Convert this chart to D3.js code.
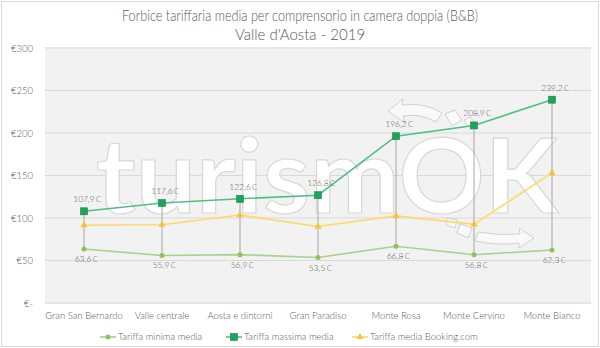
<!DOCTYPE html>
<html><head><meta charset="utf-8">
<script src="https://cdn.jsdelivr.net/npm/d3@7"></script>
<style>
html,body{margin:0;padding:0;background:#fff;}
svg text{font-family:"Lato","Open Sans",sans-serif;font-weight:300;fill:#595959;}
</style></head>
<body>
<svg id="chart" width="600" height="348"></svg>
<script>
const categories = ["Gran San Bernardo","Valle centrale","Aosta e dintorni","Gran Paradiso","Monte Rosa","Monte Cervino","Monte Bianco"];
const tariffaMinima = [63.6, 55.9, 56.9, 53.5, 66.8, 56.8, 62.3];
const tariffaMassima = [107.9, 117.6, 122.6, 126.8, 196.2, 208.9, 239.2];
const tariffaBooking = [91.5, 92, 103.5, 90, 102.5, 92.5, 153];
const yTicks = [0, 50, 100, 150, 200, 250, 300];
const yTickLabels = ["€-", "€50", "€100", "€150", "€200", "€250", "€300"];
const titleLines = ["Forbice tariffaria media per comprensorio in camera doppia (B&B)", "Valle d'Aosta - 2019"];
const legendLabels = ["Tariffa minima media", "Tariffa massima media", "Tariffa media Booking.com"];

const svg = d3.select("#chart");
const W = 600, H = 348;
const plot = {left: 45, right: 591, top: 47, bottom: 304};

// outer border
svg.append("rect").attr("x",1.5).attr("y",1.5).attr("width",W-3).attr("height",H-3)
  .attr("fill","#fff").attr("stroke","#d9d9d9");

const x = d3.scaleBand().domain(categories).range([plot.left, plot.right]);
const y = d3.scaleLinear().domain([0,300]).range([303, 48]);

// plot background
svg.append("rect").attr("x",plot.left).attr("y",plot.top)
  .attr("width",plot.right-plot.left).attr("height",plot.bottom-plot.top).attr("fill","#f2f2f2");

// gridlines
svg.append("g").selectAll("line").data(yTicks).join("line")
  .attr("x1",plot.left).attr("x2",plot.right)
  .attr("y1",d=>y(d)).attr("y2",d=>y(d))
  .attr("stroke","#d9d9d9").attr("stroke-width",1);

// y axis labels
const yAxis = d3.axisLeft(y).tickValues(yTicks).tickSize(0).tickPadding(0)
  .tickFormat((d,i)=>yTickLabels[i]);
const ya = svg.append("g").attr("transform","translate(33,0)").call(yAxis);
ya.select(".domain").remove();
ya.selectAll("text").style("font-size","9.5px").style("font-family",'"Lato","Open Sans",sans-serif').attr("fill","#595959");

// watermark (logo)
const wm = svg.append("g");
wm.append("text").attr("x",96).attr("y",213).text("turismOK")
  .attr("textLength",462).attr("lengthAdjust","spacingAndGlyphs")
  .style("font-size","104px").style("font-weight","700")
  .style("fill","#ffffff").attr("stroke","#d8d8d8").attr("stroke-width",1.2);
function arrow(path){ wm.append("path").attr("d",path).attr("fill","#f9f9f9").attr("stroke","#d0d0d0").attr("stroke-width",1); }
arrow("M388,111 L403,99 L402,105 Q425,102 442,113 L436,122 Q420,113 403,116 L405,123 Z");
arrow("M445,114 L455,110 L462,120 L452,126 Z");
arrow("M464,120 L470,117 L476,124 L468,127 Z");
arrow("M447,218 L457,220 L455,228 L446,225 Z");
arrow("M460,224 L472,228 L468,238 L457,233 Z");
arrow("M478,232 Q500,236 520,234 L519,228 L534,238 L519,248 L519,243 Q498,246 475,241 Z");

// high-low lines
const cx = d => x(d)+x.bandwidth()/2;
svg.append("g").selectAll("line").data(categories).join("line")
  .attr("x1",cx).attr("x2",cx)
  .attr("y1",(d,i)=>y(tariffaMinima[i])).attr("y2",(d,i)=>y(tariffaMassima[i]))
  .attr("stroke","#a6a6a6").attr("stroke-width",1);

const series = [
  {name:legendLabels[0], values:tariffaMinima, line:"#a9d18e", marker:"#8dc25e", shape:"circle"},
  {name:legendLabels[1], values:tariffaMassima, line:"#4fbf82", marker:"#1fa35a", shape:"square"},
  {name:legendLabels[2], values:tariffaBooking, line:"#ffd966", marker:"#f7c23c", shape:"triangle"}
];
const line = d3.line().x((v,i)=>cx(categories[i])).y(v=>y(v));
function drawMarker(g, shape, color, px, py){
  if(shape==="circle") g.append("circle").attr("cx",px).attr("cy",py).attr("r",2.5).attr("fill",color);
  else if(shape==="square") g.append("rect").attr("x",px-3.5).attr("y",py-3.5).attr("width",7).attr("height",7).attr("fill",color).attr("stroke","#178a4a").attr("stroke-width",0.6);
  else g.append("path").attr("d",d3.symbol(d3.symbolTriangle,22)()).attr("transform",`translate(${px},${py})`).attr("fill",color);
}
[series[2], series[0], series[1]].forEach(s=>{
  const g = svg.append("g");
  g.append("path").datum(s.values).attr("d",line).attr("fill","none").attr("stroke",s.line).attr("stroke-width",1.6);
  s.values.forEach((v,i)=>drawMarker(g, s.shape, s.marker, cx(categories[i]), y(v)));
});

const fmt = v => d3.format(".1f")(v).replace(".",",") + "\u2009€";
svg.append("g").selectAll("text").data(tariffaMassima).join("text")
  .attr("x",(v,i)=>cx(categories[i])+3).attr("y",v=>y(v)-9)
  .attr("text-anchor","middle").style("font-size","8.5px").text(fmt);
svg.append("g").selectAll("text").data(tariffaMinima).join("text")
  .attr("x",(v,i)=>cx(categories[i])+2).attr("y",v=>y(v)+13)
  .attr("text-anchor","middle").style("font-size","8.5px").text(fmt);

// x axis labels
svg.append("g").selectAll("text").data(categories).join("text")
  .attr("x",d=>cx(d)).attr("y",319).attr("text-anchor","middle")
  .style("font-size","9.5px").text(d=>d);

// title
svg.append("text").attr("x",300).attr("y",21).attr("text-anchor","middle")
  .style("font-size","15px").attr("textLength",356).attr("lengthAdjust","spacingAndGlyphs").text(titleLines[0]);
svg.append("text").attr("x",300).attr("y",40).attr("text-anchor","middle")
  .style("font-size","15px").text(titleLines[1]);

// legend
const legendX = [100, 226, 352];
const lg = svg.append("g");
series.forEach((s,i)=>{
  const lx = legendX[i], ly = 337;
  lg.append("line").attr("x1",lx).attr("x2",lx+16).attr("y1",ly).attr("y2",ly).attr("stroke",s.line).attr("stroke-width",1.6);
  drawMarker(lg, s.shape, s.marker, lx+8, ly);
  lg.append("text").attr("x",lx+18).attr("y",ly+3.3).style("font-size","9.5px").text(s.name);
});
</script>
</body></html>
